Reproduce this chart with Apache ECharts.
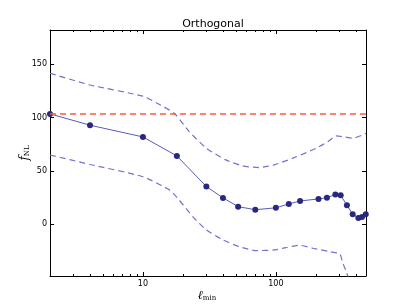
<!DOCTYPE html>
<html><head><meta charset="utf-8">
<script src="https://cdn.jsdelivr.net/npm/echarts@6/dist/echarts.min.js"></script>
<style>html,body{margin:0;padding:0;background:#fff}#c{width:407px;height:307px}</style>
</head><body><div id="c"></div>
<script>
// ---- data ----
const ell = [2, 4, 10, 18, 30, 40, 52, 70, 100, 125, 152, 209, 242, 280, 307, 342, 378, 417, 444, 474];
const fnl = [103.4, 92.8, 81.8, 64.0, 35.3, 24.7, 16.5, 13.6, 15.4, 19.0, 21.8, 23.7, 24.9, 27.8, 27.2, 17.8, 9.4, 5.9, 6.8, 9.4];
const upperEll = [2, 4, 10, 12.8, 17.2, 22.3, 30, 42, 56, 75, 97, 134, 201, 246, 284, 319, 376, 451, 476];
const upperVal = [141.5, 130.5, 120, 113.4, 104, 86.8, 71.2, 60.3, 54.7, 53.1, 55.6, 61.9, 71.2, 77.4, 82.8, 82.1, 80.6, 83.7, 85.3];
const lowerEll = [2, 4, 10, 15.8, 18.7, 23.7, 30, 40, 53, 71, 97, 119, 150, 190, 254, 302, 319, 339, 378, 476];
const lowerVal = [64.9, 56, 44.5, 32.2, 22.8, 7.1, -5.3, -14.7, -21, -24.7, -24.1, -21.9, -19.7, -22.5, -25.7, -27.8, -36.6, -44.4, -62, -66];
const threshold = 103.4;
const xMin = 2, xMax = 476;
const yMin = -48.5, yMax = 182;
const majorX = [10, 100];
const minorX = [3, 4, 5, 6, 7, 8, 9, 20, 30, 40, 50, 60, 70, 80, 90, 200, 300, 400];
const yTicks = [0, 50, 100, 150];
const titleText = 'Orthogonal';

const L = Math.log10;
const pair = (xs, ys) => xs.map((x, i) => [L(x), ys[i]]);

const chart = echarts.init(document.getElementById('c'), null, {renderer: 'canvas'});
const font = 'DejaVu Sans';
function xAxisDef(pos, ticks, len, showLine, showLabel) {
  return {
    type: 'value', position: pos, min: L(xMin), max: L(xMax),
    axisLine: {show: showLine, onZero: false, lineStyle: {color: '#000', width: 1}},
    axisTick: {show: true, inside: true, length: len, customValues: ticks.map(L), lineStyle: {color: '#000', width: 1}},
    axisLabel: {show: showLabel, customValues: ticks.map(L), formatter: v => String(Math.round(Math.pow(10, v))),
      color: '#000', fontFamily: font, fontSize: 8, margin: 4},
    splitLine: {show: false}
  };
}
function yAxisDef(pos, showLabel) {
  return {
    type: 'value', position: pos, min: yMin, max: yMax,
    axisLine: {show: true, onZero: false, lineStyle: {color: '#000', width: 1}},
    axisTick: {show: true, inside: true, length: 4, customValues: yTicks, lineStyle: {color: '#000', width: 1}},
    axisLabel: {show: showLabel, customValues: yTicks, color: '#000', fontFamily: font, fontSize: 8, margin: 3},
    splitLine: {show: false}
  };
}
const bandStyle = {color: '#7272cf', width: 1.2, type: [6, 4]};
chart.setOption({
  animation: false,
  backgroundColor: '#fff',
  title: {text: titleText, left: 208, top: 14, textAlign: 'center',
    textStyle: {fontFamily: font, fontSize: 11, fontWeight: 'normal', color: '#000'}},
  grid: {left: 50, top: 30, width: 316, height: 246, containLabel: false},
  xAxis: [
    xAxisDef('bottom', majorX, 4, true, true),
    xAxisDef('bottom', minorX, 2, false, false),
    xAxisDef('top', majorX, 4, true, false),
    xAxisDef('top', minorX, 2, false, false)
  ],
  yAxis: [yAxisDef('left', true), yAxisDef('right', false)],
  graphic: [
    {type: 'text', x: 24, y: 153, rotation: Math.PI / 2, z: 100,
      style: {text: '{f|f}{s|NL}', align: 'center', verticalAlign: 'middle',
        rich: {f: {fontFamily: 'DejaVu Serif', fontStyle: 'italic', fontSize: 12, lineHeight: 14, verticalAlign: 'bottom', fill: '#000'},
               s: {fontFamily: 'DejaVu Serif', fontSize: 7, lineHeight: 10, verticalAlign: 'bottom', fill: '#000'}}}},
    {type: 'text', x: 207, y: 295, z: 100,
      style: {text: '{f|ℓ}{s|min}', align: 'center', verticalAlign: 'middle',
        rich: {f: {fontFamily: 'DejaVu Serif', fontStyle: 'italic', fontSize: 12, lineHeight: 14, verticalAlign: 'bottom', fill: '#000'},
               s: {fontFamily: 'DejaVu Serif', fontSize: 7, lineHeight: 10, verticalAlign: 'bottom', fill: '#000'}}}}
  ],
  series: [
    {type: 'line', name: 'upper', data: pair(upperEll, upperVal), showSymbol: false, symbol: 'none', smooth: 0.2,
      lineStyle: bandStyle, clip: true, z: 2},
    {type: 'line', name: 'lower', data: pair(lowerEll, lowerVal), showSymbol: false, symbol: 'none', smooth: 0.2,
      lineStyle: bandStyle, clip: true, z: 2},
    {type: 'line', name: 'fnl', data: pair(ell, fnl), symbol: 'circle', symbolSize: 6, clip: true,
      lineStyle: {color: '#5a5abb', width: 1}, itemStyle: {color: '#282880', borderColor: '#282880', borderWidth: 0}, z: 3},
    {type: 'line', name: 'threshold', data: [], z: 4,
      markLine: {silent: true, symbol: 'none', label: {show: false},
        lineStyle: {color: '#ff5a3a', width: 1.5, type: [6, 4]},
        data: [{yAxis: threshold}]}}
  ]
});
</script></body></html>
